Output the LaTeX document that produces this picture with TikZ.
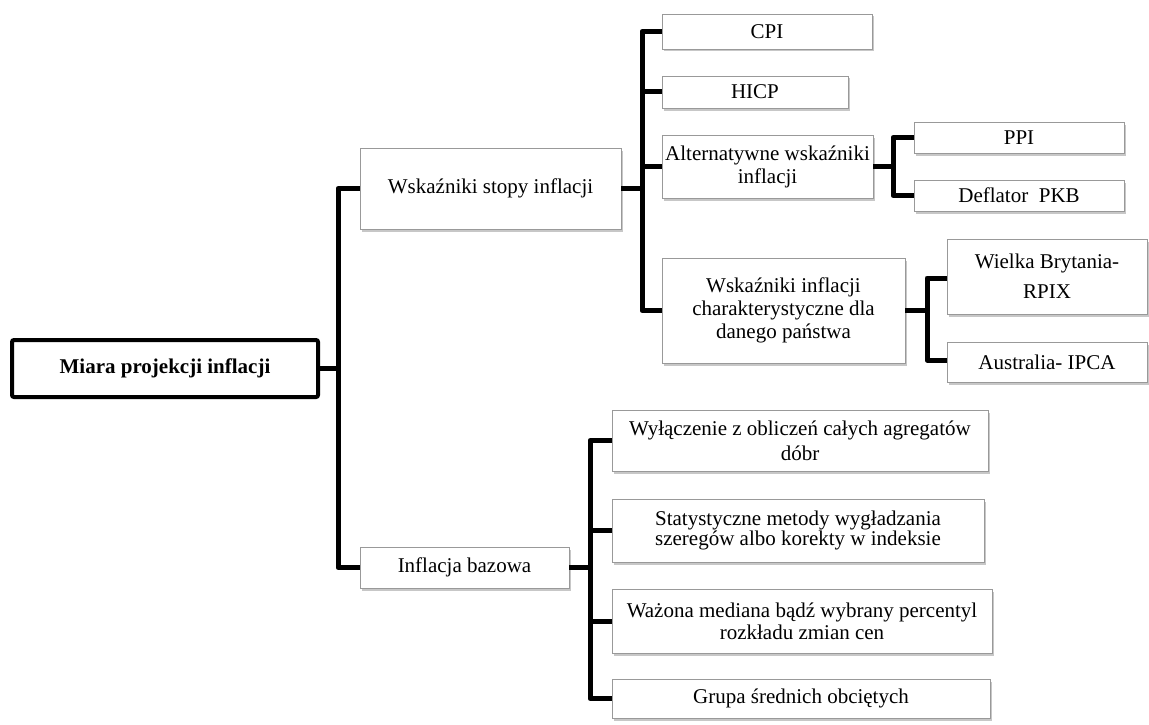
\documentclass[tikz,border=0pt]{standalone}
\usepackage{fontspec}
\setmainfont{Liberation Serif}
\usetikzlibrary{shadows}
\begin{document}
\begin{tikzpicture}[x=1pt,y=-1pt,
  box/.style={draw=gray!80, line width=0.9pt, fill=white, inner sep=0pt,
    align=center, font=\fontsize{21}{23}\selectfont,
    drop shadow={shadow xshift=2pt, shadow yshift=-2.5pt, fill=black, opacity=0.22}},
  rootbox/.style={draw=black, line width=4pt, rounded corners=2pt, fill=white,
    inner sep=0pt, align=center, font=\fontsize{21}{23}\selectfont\bfseries},
  conn/.style={draw=black, line width=5pt, line join=round}]
\useasboundingbox (0,0) rectangle (1149,725);

% root
\node[rootbox, minimum width=306pt, minimum height=57pt] (root) at (165,368.5) {Miara projekcji inflacji};

% first level
\node[box, minimum width=261pt, minimum height=81pt] (wsk) at (490.5,188.5) {Wskaźniki stopy inflacji};
\node[box, minimum width=209pt, minimum height=41pt] (inf) at (464.5,567.5) {Inflacja bazowa};

% inflation indices
\node[box, minimum width=210pt, minimum height=35pt] (cpi) at (767,31.5) {CPI};
\node[box, minimum width=186pt, minimum height=32pt] (hicp) at (755,92) {HICP};
\node[box, minimum width=211pt, minimum height=63pt] (alt) at (767.5,166.5) {Alternatywne wskaźniki\\inflacji};
\node[box, minimum width=243pt, minimum height=105pt] (chr) at (783.5,310.5) {Wskaźniki inflacji\\charakterystyczne dla\\danego państwa};

\node[box, minimum width=210pt, minimum height=31pt] (ppi) at (1019,137.5) {PPI};
\node[box, minimum width=210pt, minimum height=31pt] (defl) at (1019,195.5) {Deflator\ \ PKB};

\node[box, minimum width=200pt, minimum height=75pt, font=\fontsize{21}{30}\selectfont] (wb) at (1047,276.5) {Wielka Brytania-\\RPIX};
\node[box, minimum width=200pt, minimum height=40pt] (aus) at (1047,362) {Australia- IPCA};

% core inflation methods
\node[box, minimum width=376pt, minimum height=61pt, font=\fontsize{21}{25}\selectfont] (wyl) at (800,440.5) {Wyłączenie z obliczeń całych agregatów\\dóbr};
\node[box, minimum width=372pt, minimum height=63pt, font=\fontsize{21}{20}\selectfont] (stat) at (798,530.5) {Statystyczne metody wygładzania\\szeregów albo korekty w indeksie};
\node[box, minimum width=380pt, minimum height=64pt, font=\fontsize{21}{22}\selectfont] (waz) at (802,621) {Ważona mediana bądź wybrany percentyl\\rozkładu zmian cen};
\node[box, minimum width=378pt, minimum height=39pt] (grp) at (801,698.5) {Grupa średnich obciętych};

% trunk coordinates
\coordinate (t1) at (338,368.5);
\coordinate (t2) at (642,188.5);
\coordinate (t3) at (927,310.5);
\coordinate (t4) at (893,166.5);
\coordinate (t5) at (590,567.5);

% connectors from the root
\draw[conn] (root.east) -- (t1);
\draw[conn] (wsk.west) -| (t1) |- (inf.west);

% connectors of the index branch
\draw[conn] (wsk.east) -- (t2);
\draw[conn] (cpi.west) -| (t2) |- (chr.west);
\draw[conn] (hicp.west) -- (hicp.west -| t2);
\draw[conn] (alt.west) -- (alt.west -| t2);

\draw[conn] (alt.east) -- (t4);
\draw[conn] (ppi.west) -| (t4) |- (defl.west);

\draw[conn] (chr.east) -- (t3);
\draw[conn] ([yshift=-1.5pt]wb.west) -| (t3) |- ([yshift=2pt]aus.west);

% connectors of the core inflation branch
\draw[conn] (inf.east) -- (t5);
\draw[conn] (wyl.west) -| (t5) |- (grp.west);
\draw[conn] (stat.west) -- (stat.west -| t5);
\draw[conn] (waz.west) -- (waz.west -| t5);
\end{tikzpicture}
\end{document}
